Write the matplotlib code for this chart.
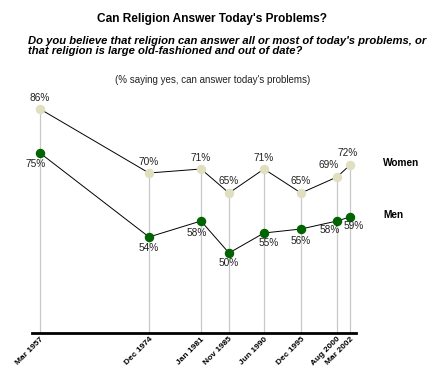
import matplotlib
matplotlib.use("Agg")
import matplotlib.pyplot as plt

plt.rcParams["font.family"] = ["Liberation Sans", "DejaVu Sans"]

# data
dates = ["Mar 1957", "Dec 1974", "Jan 1981", "Nov 1985", "Jun 1990",
         "Dec 1995", "Aug 2000", "Mar 2002"]
women = [86, 70, 71, 65, 71, 65, 69, 72]
men = [75, 54, 58, 50, 55, 56, 58, 59]

# horizontal placement of each survey on the axis (irregular spacing as in original)
x_pos = [40, 149, 201, 229, 264, 301, 337, 350]

women_color = "#e0dfc0"
men_color = "#006400"
grid_color = "#c8c8c8"

# label offsets in pixels (dx, dy)
women_off = [(0, 11), (0, 11), (0, 11), (0, 12), (0, 11), (0, 12), (-8, 12), (-2, 12)]
men_off = [(-4, -11), (0, -11), (-4, -12), (0, -10), (5, -10), (0, -12), (-7, -9), (4, -9)]

fig = plt.figure(figsize=(4.4, 3.75), dpi=100)
ax = fig.add_axes([32 / 440, 42 / 375, 324 / 440, 240 / 375])
ax.set_xlim(32, 356)
ax.set_ylim(30, 90)

for xp, w in zip(x_pos, women):
    ax.plot([xp, xp], [30, w], color=grid_color, linewidth=0.9, zorder=1)

ax.plot(x_pos, women, color="black", linewidth=0.7, zorder=2)
ax.plot(x_pos, men, color="black", linewidth=0.7, zorder=2)
ax.plot(x_pos, women, linestyle="none", marker="o", markersize=5.8,
        markerfacecolor=women_color, markeredgecolor=women_color, zorder=3)
ax.plot(x_pos, men, linestyle="none", marker="o", markersize=5.8,
        markerfacecolor=men_color, markeredgecolor=men_color, zorder=3)

for xp, v, off in zip(x_pos, women, women_off):
    ax.annotate(f"{v}%", (xp, v), xytext=off, textcoords="offset pixels",
                ha="center", va="center", fontsize=7.3, color="#222222")
for xp, v, off in zip(x_pos, men, men_off):
    ax.annotate(f"{v}%", (xp, v), xytext=off, textcoords="offset pixels",
                ha="center", va="center", fontsize=7.3, color="#222222")

for s in ["top", "left", "right"]:
    ax.spines[s].set_visible(False)
ax.spines["bottom"].set_linewidth(2)
ax.set_yticks([])
ax.set_xticks(x_pos)
ax.set_xticklabels(dates, rotation=45, ha="right", va="top",
                   rotation_mode="anchor", fontsize=6, fontweight="bold")
ax.tick_params(axis="x", length=0, pad=2)

fig.text(383 / 440, 1 - 163 / 375, "Women", fontsize=7.3, fontweight="bold",
         ha="left", va="center")
fig.text(383 / 440, 1 - 215 / 375, "Men", fontsize=7.3, fontweight="bold",
         ha="left", va="center")

fig.text(212 / 440, 1 - 19 / 375, "Can Religion Answer Today's Problems?",
         fontsize=8.6, fontweight="bold", ha="center", va="center")
fig.text(28 / 440, 1 - 36 / 375,
         "Do you believe that religion can answer all or most of today's problems, or\n"
         "that religion is large old-fashioned and out of date?",
         fontsize=8.15, fontweight="bold", fontstyle="italic", ha="left", va="top",
         linespacing=0.95)
fig.text(213 / 440, 1 - 80 / 375, "(% saying yes, can answer today's problems)",
         fontsize=7, ha="center", va="center", color="#222222")

fig.savefig("out.png", dpi=100)
